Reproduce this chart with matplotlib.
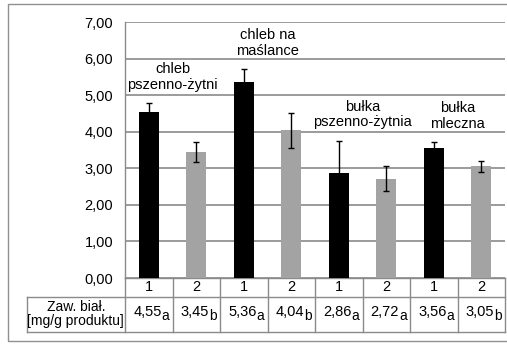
import matplotlib
matplotlib.use("Agg")
import matplotlib.pyplot as plt
from matplotlib.patches import Rectangle
from matplotlib.ticker import FuncFormatter
from matplotlib.transforms import offset_copy

plt.rcParams['font.family'] = ['Liberation Sans', 'DejaVu Sans']

groups = ['chleb\npszenno-żytni', 'chleb na\nmaślance', 'bułka\npszenno-żytnia', 'bułka\nmleczna']
variants = ['1', '2', '1', '2', '1', '2', '1', '2']
protein = [4.55, 3.45, 5.36, 4.04, 2.86, 2.72, 3.56, 3.05]
errors = [0.23, 0.28, 0.35, 0.48, 0.89, 0.33, 0.15, 0.16]
letters = ['a', 'b', 'a', 'b', 'a', 'a', 'a', 'b']
row_label = 'Zaw. biał.\n[mg/g produktu]'

W, H = 507, 344
grid_c = '#8a8a8a'
fig = plt.figure(figsize=(W / 100, H / 100), dpi=100)
fig.patch.set_facecolor('white')

# outer chart frame
fig.patches.append(Rectangle((8 / W, 3 / H), 1.0, (H - 7) / H, transform=fig.transFigure,
                             fill=False, edgecolor='#909090', linewidth=1.0))

ax = fig.add_axes([125 / W, 66 / H, 380 / W, 256 / H])
x = list(range(len(protein)))
colors = ['black' if v == '1' else '#a3a3a3' for v in variants]
ax.bar(x, protein, width=0.42, color=colors, zorder=3)
ax.errorbar(x, protein, yerr=errors, fmt='none', ecolor='black', elinewidth=1.0,
            capsize=2.5, capthick=1.0, zorder=4)

ax.set_xlim(-0.5, len(protein) - 0.5)
ax.set_ylim(0, 7)
ax.set_yticks(range(8))
ax.yaxis.set_major_formatter(FuncFormatter(lambda v, p: f'{v:.2f}'.replace('.', ',')))
ax.tick_params(axis='y', length=0, pad=8.5, labelsize=10.5)
ax.set_xticks([])
ax.grid(axis='y', color=grid_c, linewidth=1.2, zorder=0)
for s in ['top', 'right', 'bottom']:
    ax.spines[s].set_visible(False)
ax.spines['left'].set_color(grid_c)
ax.spines['left'].set_linewidth(1.0)

# group names above each pair of bars
for g, name in enumerate(groups):
    i = 2 * g
    top = max(protein[i] + errors[i], protein[i + 1] + errors[i + 1])
    ax.text(i + 0.5, top + 0.72, name, ha='center', va='center', fontsize=10.5,
            linespacing=1.15)

# table under the axis
tr = ax.get_xaxis_transform()
tr_sub = offset_copy(tr, fig=fig, x=0, y=-4, units='dots')
y0, y1, y2 = 0.0, -0.073, -0.21
xl = -2.57
n = len(protein)
lk = dict(color=grid_c, linewidth=1.0, transform=tr, clip_on=False)
ax.plot([-0.5, n - 0.5], [y0, y0], **lk)
ax.plot([xl, n - 0.5], [y1, y1], **lk)
ax.plot([xl, n - 0.5], [y2, y2], **lk)
ax.plot([xl, xl], [y1, y2], **lk)
for k in range(n + 1):
    ax.plot([k - 0.5, k - 0.5], [y0, y2], **lk)

ym = (y1 + y2) / 2
for i in x:
    ax.text(i, (y0 + y1) / 2, variants[i], transform=tr, ha='center', va='center',
            fontsize=10.5)
    val = f'{protein[i]:.2f}'.replace('.', ',')
    ax.text(i + 0.27, ym + 0.01, val, transform=tr, ha='right', va='center',
            fontsize=10.5)
    ax.text(i + 0.27, ym + 0.01, letters[i], transform=tr_sub, ha='left', va='center',
            fontsize=10)
ax.text((xl - 0.5) / 2, ym, row_label, transform=tr, ha='center',
        va='center', fontsize=10, linespacing=1.0)

fig.savefig('out.png', dpi=100)
